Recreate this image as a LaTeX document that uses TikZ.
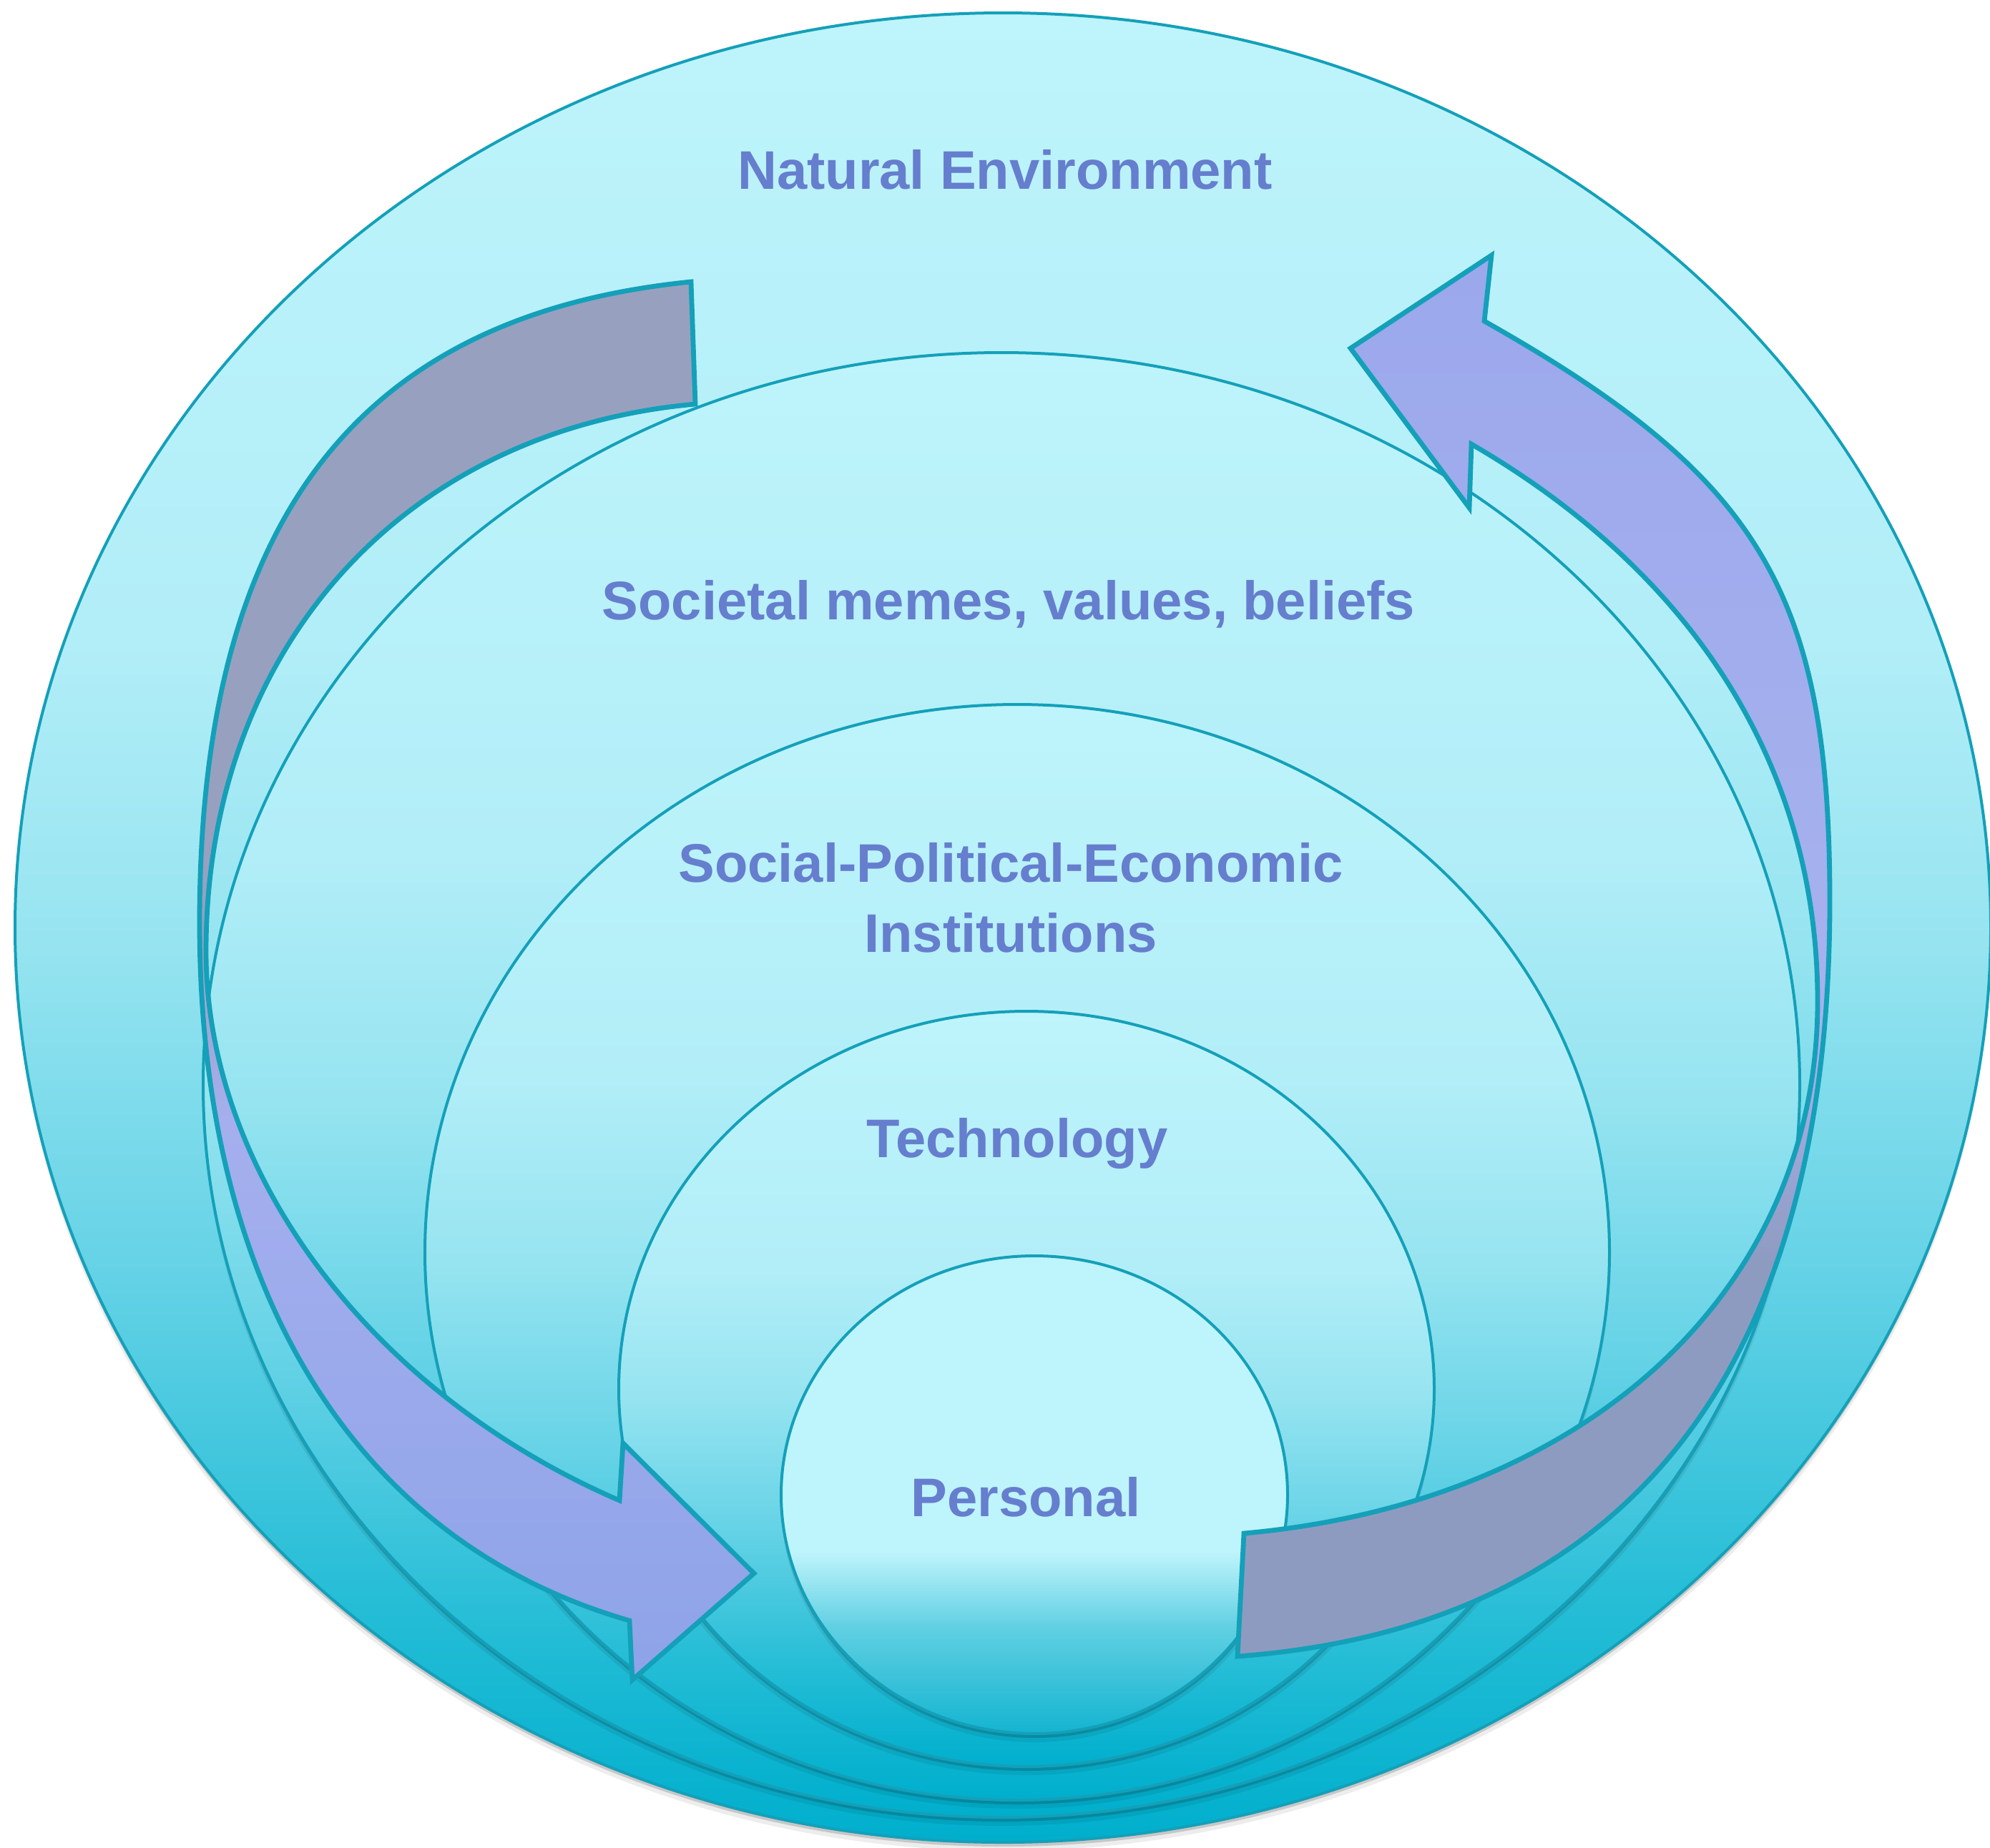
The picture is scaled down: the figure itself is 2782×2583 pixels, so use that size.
\documentclass[tikz,border=0pt]{standalone}
\usepackage{fontspec}
\setmainfont{Liberation Sans}
\definecolor{ringedge}{RGB}{20,160,185}
\definecolor{labelblue}{RGB}{102,126,206}
\definecolor{cza}{RGB}{0,175,205}
\definecolor{czb}{RGB}{40,190,215}
\definecolor{czc}{RGB}{100,210,230}
\definecolor{czd}{RGB}{150,228,240}
\definecolor{cze}{RGB}{178,238,248}
\definecolor{czf}{RGB}{190,244,251}
\definecolor{pza}{RGB}{20,180,208}
\definecolor{pzb}{RGB}{95,207,226}
\definecolor{lgray}{RGB}{152,160,192}
\definecolor{lblue}{RGB}{142,163,232}
\definecolor{llav}{RGB}{165,175,238}
\definecolor{rgray}{RGB}{142,155,192}
\definecolor{rlav}{RGB}{168,178,238}
\definecolor{rblue}{RGB}{155,168,236}
\pgfdeclareverticalshading{ringshade}{100bp}{color(0bp)=(cza); color(25bp)=(cza); color(32bp)=(czb); color(40.5bp)=(czc); color(49.5bp)=(czd); color(58bp)=(cze); color(75bp)=(czf); color(100bp)=(czf)}
\pgfdeclareverticalshading{persshade}{100bp}{color(0bp)=(pza); color(25bp)=(pza); color(36bp)=(pzb); color(44bp)=(czf); color(100bp)=(czf)}
\pgfdeclareverticalshading{leftarrowshade}{100bp}{color(0bp)=(lblue); color(25bp)=(lblue); color(45bp)=(llav); color(52bp)=(lgray); color(100bp)=(lgray)}
\pgfdeclareverticalshading{rightarrowshade}{100bp}{color(0bp)=(rgray); color(25bp)=(rgray); color(39bp)=(rgray); color(47bp)=(rlav); color(75bp)=(rblue); color(100bp)=(rblue)}
\tikzset{
  ring/.style={draw=ringedge, line width=1pt, shading=ringshade},
  ringshadowa/.style={fill=black, opacity=0.16},
  ringshadowb/.style={fill=black, opacity=0.07},
  bigarrow/.style={draw=ringedge, line width=1.7pt, line join=miter},
  label/.style={text=labelblue, font=\bfseries\fontsize{19}{23}\selectfont, anchor=base, inner sep=0pt}
}
\begin{document}
\begin{tikzpicture}[x=0.25pt, y=-0.25pt]
\useasboundingbox (0,0) rectangle (2782,2583);
% ring centres
\coordinate (cnat) at (1402,1297);
\coordinate (csoc) at (1400,1517);
\coordinate (cspe) at (1422,1751);
\coordinate (ctec) at (1435,1942);
\coordinate (cper) at (1446,2090);
% Natural environment
\fill[ringshadowb] ([yshift=-3pt]cnat) ellipse [x radius=1381, y radius=1279];
\fill[ringshadowa] ([yshift=-1.5pt]cnat) ellipse [x radius=1381, y radius=1279];
\path[ring] (cnat) ellipse [x radius=1381, y radius=1279];
% Societal
\fill[ringshadowb] ([yshift=-3pt]csoc) ellipse [x radius=1116, y radius=1024];
\fill[ringshadowa] ([yshift=-1.5pt]csoc) ellipse [x radius=1116, y radius=1024];
\path[ring] (csoc) ellipse [x radius=1116, y radius=1024];
% Social-Political-Economic
\fill[ringshadowb] ([yshift=-3pt]cspe) ellipse [x radius=828, y radius=766];
\fill[ringshadowa] ([yshift=-1.5pt]cspe) ellipse [x radius=828, y radius=766];
\path[ring] (cspe) ellipse [x radius=828, y radius=766];
% Technology
\fill[ringshadowb] ([yshift=-3pt]ctec) ellipse [x radius=570, y radius=528];
\fill[ringshadowa] ([yshift=-1.5pt]ctec) ellipse [x radius=570, y radius=528];
\path[ring] (ctec) ellipse [x radius=570, y radius=528];
% Personal
\fill[ringshadowb] ([yshift=-3pt]cper) ellipse [x radius=354, y radius=334];
\fill[ringshadowa] ([yshift=-1.5pt]cper) ellipse [x radius=354, y radius=334];
\path[ring, shading=persshade] (cper) ellipse [x radius=354, y radius=334];

% left curved arrow (top -> down the left side -> pointing at Personal)
\coordinate (latop) at (966,394);
\coordinate (laleft) at (279,1290);
\coordinate (labase) at (880,2266);
\coordinate (labarbl) at (884,2349);
\coordinate (latip) at (1054,2200);
\coordinate (labarbu) at (871,2018);
\coordinate (lainb) at (866,2098);
\coordinate (lapinch) at (288,1330);
\coordinate (laintop) at (972,565);
\draw[bigarrow, shading=leftarrowshade] (latop)
  .. controls (499,441) and (279,728) .. (laleft)
  .. controls (279,1803) and (495,2155) .. (labase)
  -- (labarbl) -- (latip) -- (labarbu) -- (lainb)
  .. controls (519,1948) and (288,1641) .. (lapinch)
  .. controls (288,908) and (562,602) .. (laintop)
  -- cycle;

% right curved arrow (from Personal -> up the right side -> pointing left at top)
\coordinate (rabot) at (1730,2316);
\coordinate (raright) at (2558,1260);
\coordinate (rabase) at (2075,449);
\coordinate (rabarbu) at (2085,357);
\coordinate (ratip) at (1888,487);
\coordinate (rabarbl) at (2054,710);
\coordinate (rainb) at (2057,621);
\coordinate (rapinch) at (2541,1400);
\coordinate (rainbot) at (1739,2144);
\draw[bigarrow, shading=rightarrowshade] (rabot)
  .. controls (2276,2275) and (2558,1916) .. (raright)
  .. controls (2558,829) and (2461,667) .. (rabase)
  -- (rabarbu) -- (ratip) -- (rabarbl) -- (rainb)
  .. controls (2372,804) and (2541,1076) .. (rapinch)
  .. controls (2541,1804) and (2220,2101) .. (rainbot)
  -- cycle;

% labels
\node[label] (tnat) at (1405,264) {Natural Environment};
\node[label] (tsoc) at (1410,866) {Societal memes, values, beliefs};
\node[label] (tspea) at (1413,1233) {Social-Political-Economic};
\node[label] (tspeb) at (1413,1331) {Institutions};
\node[label] (ttec) at (1422,1618) {Technology};
\node[label] (tper) at (1434,2120) {Personal};
\end{tikzpicture}
\end{document}
